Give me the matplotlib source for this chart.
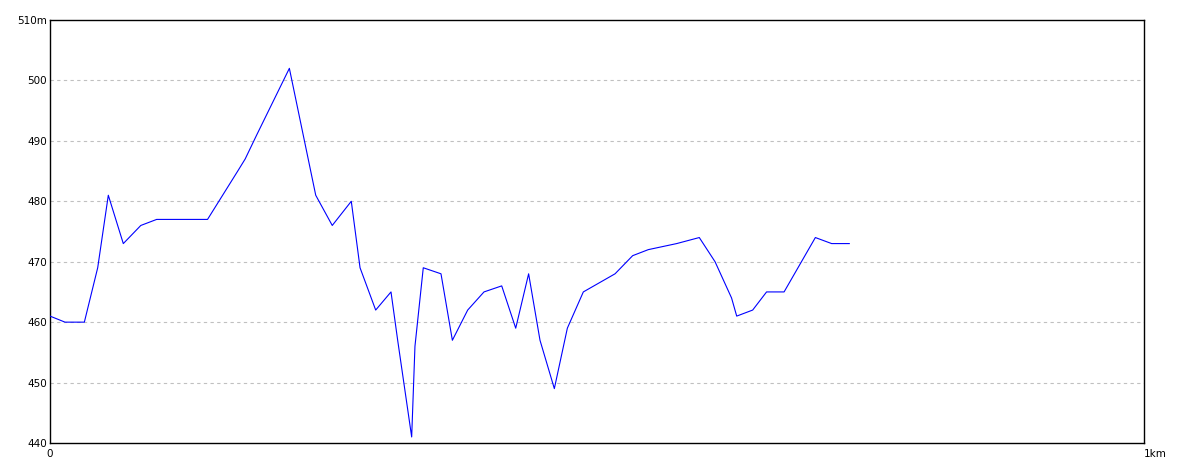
import matplotlib
matplotlib.use("Agg")
import matplotlib.pyplot as plt

# distance (km) and elevation (m)
dist_km = [0.0, 0.0137, 0.0314, 0.0436, 0.0533, 0.067, 0.083, 0.0975, 0.144,
           0.1716, 0.1784, 0.189, 0.2188, 0.2429, 0.258, 0.2754, 0.2834, 0.2977,
           0.3117, 0.3178, 0.3306, 0.3336, 0.3412, 0.3574, 0.3678, 0.3818, 0.3967,
           0.4129, 0.4257, 0.4375, 0.4479, 0.461, 0.4729, 0.4875, 0.5165, 0.5326,
           0.5469, 0.5728, 0.5935, 0.6079, 0.623, 0.6277, 0.6423, 0.655, 0.671,
           0.6996, 0.7145, 0.7306]
elev_m = [461, 460, 460, 469, 481, 473, 476, 477, 477,
          485, 487, 491, 502, 481, 476, 480, 469, 462,
          465, 457, 441, 456, 469, 468, 457, 462, 465,
          466, 459, 468, 457, 449, 459, 465, 468, 471,
          472, 473, 474, 470, 464, 461, 462, 465, 465,
          474, 473, 473]

y_ticks = [440, 450, 460, 470, 480, 490, 500, 510]
y_labels = ["440", "450", "460", "470", "480", "490", "500", "510m"]
x_ticks = [0, 1]
x_labels = ["0", "1km"]

fig = plt.figure(figsize=(11.84, 4.73), dpi=100)
ax = fig.add_axes([50/1184, 1-443/473, 1094/1184, 423/473])
ax.plot(dist_km, elev_m, color="#0000ff", linewidth=0.8, zorder=3)
ax.set_xlim(0, 1)
ax.set_ylim(440, 510)
ax.set_yticks(y_ticks)
ax.set_yticklabels(y_labels)
ax.set_xticks(x_ticks)
ax.set_xticklabels(x_labels)
ax.tick_params(length=0, labelsize=7.5, pad=2)
xl = ax.get_xticklabels()
xl[0].set_horizontalalignment("center")
xl[1].set_horizontalalignment("left")
ax.xaxis.set_tick_params(pad=4)
for y in y_ticks[1:-1]:
    ax.axhline(y, color="#c0c0c0", linestyle=(0, (3, 3)), linewidth=0.8, zorder=1)
for s in ax.spines.values():
    s.set_color("black")
    s.set_linewidth(1.0)
fig.savefig("out.png", dpi=100)
